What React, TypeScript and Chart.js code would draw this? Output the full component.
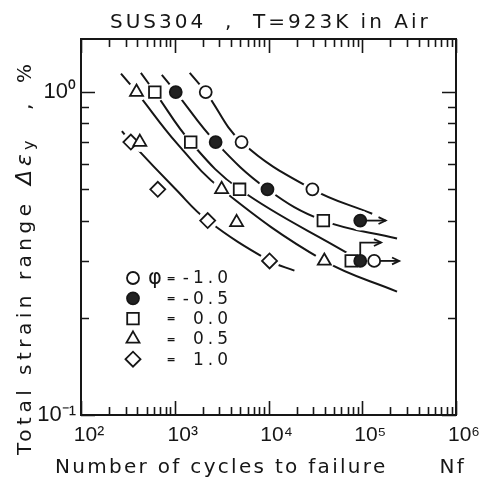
import React, { useEffect, useRef } from "react";
import { Chart, registerables } from "chart.js";

Chart.register(...registerables);

// ---------- texts ----------
const chartTitle = "SUS304  ,  T=923K in Air";
const xAxisTitle = "Number of cycles to failure      Nf";
const yAxisTitleMain = "Total strain range";
const yAxisTitleSymbol = "Δε";
const yAxisTitleSub = "y";
const yAxisTitleComma = ",";
const yAxisTitleUnit = "%";

// ---------- ticks ----------
const xTickValues = [1e2, 1e3, 1e4, 1e5, 1e6];
const xTickLabels = ["10²", "10³", "10⁴", "10⁵", "10⁶"];
const yTickValues = [0.1, 1];
const yTickLabels = ["10⁻¹", "10⁰"];
const yMinorTicks = [0.2, 0.3, 0.4, 0.5, 0.6, 0.7, 0.8, 0.9];
const minorMultipliers = [2, 3, 4, 5, 6, 7, 8, 9];

// ---------- legend ----------
const legendValues = ["-1.0", "-0.5", "0.0", "0.5", "1.0"];
const legendSymbol = "φ";

// ---------- data: cycles to failure (N) and strain range (%) ----------
const phiM10N = [2140, 5160, 29400, 134000];
const phiM10E = [1.0, 0.7, 0.5, 0.3];
const phiM05N = [1025, 2730, 9750, 95200, 95200];
const phiM05E = [1.0, 0.7, 0.5, 0.4, 0.3];
const phi00N = [613, 1480, 4915, 38460, 76300];
const phi00E = [1.0, 0.7, 0.5, 0.4, 0.3];
const phi05N = [391, 424, 3162, 4570, 39400];
const phi05E = [1.0, 0.7, 0.5, 0.395, 0.3];
const phi10N = [340, 659, 2245, 10260];
const phi10E = [0.7, 0.5, 0.4, 0.3];

// ---------- fitted curves ----------
const curveAN = [1445, 2140, 5160, 29400, 127700];
const curveAE = [1.146, 1.0, 0.7, 0.5, 0.42];
const curveBN = [728, 1025, 2730, 9750, 38460, 235000];
const curveBE = [1.13, 1.0, 0.7, 0.5, 0.4, 0.352];
const curveCN = [435, 613, 1480, 4915, 71000];
const curveCE = [1.146, 1.0, 0.7, 0.5, 0.316];
const curveDN = [267, 391, 1050, 3162, 39400, 235000];
const curveDE = [1.14, 1.0, 0.695, 0.5, 0.3, 0.241];
const curveEN = [273, 340, 1024, 2245, 10260, 18900];
const curveEE = [0.757, 0.7, 0.5, 0.4, 0.3, 0.28];

// ---------- run-out arrows ----------
const arrow1N = [95200, 178000];
const arrow1E = [0.4, 0.4];
const arrow2N = [134000, 248000];
const arrow2E = [0.3, 0.3];
const arrow3N = [95200, 95200, 159000];
const arrow3E = [0.3, 0.342, 0.342];

const INK = "#161616";

const pts = (xs: number[], ys: number[]) => xs.map((x, i) => ({ x, y: ys[i] }));

const markerSets = [
  { n: phiM10N, e: phiM10E, style: "circle", r: 6, fill: "#ffffff" },
  { n: phiM05N, e: phiM05E, style: "circle", r: 6, fill: "#222222" },
  { n: phi00N, e: phi00E, style: "rect", r: 8.2, fill: "#ffffff" },
  { n: phi05N, e: phi05E, style: "triangle", r: 7.5, fill: "#ffffff" },
  { n: phi10N, e: phi10E, style: "rectRot", r: 7.5, fill: "#ffffff" },
];

const curves = [
  [curveAN, curveAE],
  [curveBN, curveBE],
  [curveCN, curveCE],
  [curveDN, curveDE],
  [curveEN, curveEE],
];

const arrows = [
  [arrow1N, arrow1E],
  [arrow2N, arrow2E],
  [arrow3N, arrow3E],
];

function drawMarker(ctx: any, style: string, x: number, y: number, r: number, fill: string) {
  ctx.beginPath();
  if (style === "circle") {
    ctx.arc(x, y, r, 0, Math.PI * 2);
  } else if (style === "rect") {
    const s = r * Math.SQRT1_2;
    ctx.rect(x - s, y - s, 2 * s, 2 * s);
  } else if (style === "triangle") {
    let a = 0;
    ctx.moveTo(x + Math.sin(a) * r, y - Math.cos(a) * r);
    a += (2 * Math.PI) / 3;
    ctx.lineTo(x + Math.sin(a) * r, y - Math.cos(a) * r);
    a += (2 * Math.PI) / 3;
    ctx.lineTo(x + Math.sin(a) * r, y - Math.cos(a) * r);
    ctx.closePath();
  } else {
    ctx.moveTo(x - r, y);
    ctx.lineTo(x, y - r);
    ctx.lineTo(x + r, y);
    ctx.lineTo(x, y + r);
    ctx.closePath();
  }
  ctx.fillStyle = fill;
  ctx.fill();
  ctx.stroke();
}

function setText(ctx: any, font: string, spacing: number, align: string, baseline = "alphabetic") {
  ctx.font = font;
  ctx.letterSpacing = spacing + "px";
  ctx.textAlign = align;
  ctx.textBaseline = baseline;
}

const decorPlugin = {
  id: "decor",
  afterDraw(chart: any) {
    const { ctx, chartArea: a, scales } = chart;
    const xs = scales.x;
    const ys = scales.y;
    ctx.save();
    ctx.strokeStyle = INK;
    ctx.fillStyle = INK;
    ctx.lineCap = "butt";

    // frame
    ctx.lineWidth = 2;
    ctx.strokeRect(a.left, a.top, a.right - a.left, a.bottom - a.top);

    // ticks (inward, all four sides)
    ctx.lineWidth = 1.6;
    const xTicks: [number, boolean][] = [];
    xTickValues.forEach((d, i) => {
      xTicks.push([d, true]);
      if (i < xTickValues.length - 1) minorMultipliers.forEach((m) => xTicks.push([m * d, false]));
    });
    xTicks.forEach(([v, major]) => {
      const px = Math.round(xs.getPixelForValue(v)) + 0.5;
      const len = major ? 14 : 8;
      ctx.beginPath();
      ctx.moveTo(px, a.bottom);
      ctx.lineTo(px, a.bottom - len);
      ctx.moveTo(px, a.top);
      ctx.lineTo(px, a.top + len);
      ctx.stroke();
    });
    const yTicks: [number, boolean][] = [
      ...yTickValues.map((v) => [v, true] as [number, boolean]),
      ...yMinorTicks.map((v) => [v, false] as [number, boolean]),
    ];
    yTicks.forEach(([v, major]) => {
      const py = Math.round(ys.getPixelForValue(v)) + 0.5;
      const len = major ? 14 : 8;
      ctx.beginPath();
      ctx.moveTo(a.left, py);
      ctx.lineTo(a.left + len, py);
      ctx.moveTo(a.right, py);
      ctx.lineTo(a.right - len, py);
      ctx.stroke();
    });

    // run-out arrows
    ctx.lineWidth = 1.8;
    arrows.forEach(([ns, es]) => {
      const p = ns.map((n: number, i: number) => [xs.getPixelForValue(n), ys.getPixelForValue(es[i])]);
      ctx.beginPath();
      const dx0 = p[1][0] - p[0][0];
      const dy0 = p[1][1] - p[0][1];
      const l0 = Math.hypot(dx0, dy0) || 1;
      ctx.moveTo(p[0][0] + (dx0 / l0) * 6, p[0][1] + (dy0 / l0) * 6);
      for (let i = 1; i < p.length; i++) ctx.lineTo(p[i][0], p[i][1]);
      ctx.stroke();
      const last = p[p.length - 1];
      const prev = p[p.length - 2];
      const ang = Math.atan2(last[1] - prev[1], last[0] - prev[0]);
      const hl = 8;
      ctx.beginPath();
      ctx.moveTo(last[0] - hl * Math.cos(ang - 0.45), last[1] - hl * Math.sin(ang - 0.45));
      ctx.lineTo(last[0], last[1]);
      ctx.lineTo(last[0] - hl * Math.cos(ang + 0.45), last[1] - hl * Math.sin(ang + 0.45));
      ctx.stroke();
    });

    // legend
    const lx = 133;
    const ly0 = 278;
    const lStep = 20.3;
    ctx.lineWidth = 1.8;
    markerSets.forEach((m, i) => {
      const y = ly0 + i * lStep;
      ctx.strokeStyle = INK;
      drawMarker(ctx, m.style, lx, y, m.r, m.fill);
      ctx.fillStyle = INK;
      setText(ctx, "bold 11px 'DejaVu Sans'", 0, "center", "middle");
      ctx.fillText("=", 171, y + 1);
      setText(ctx, "17px 'DejaVu Sans'", 4, "right", "middle");
      ctx.fillText(legendValues[i], 232, y + 1);
    });
    setText(ctx, "21px 'DejaVu Sans'", 0, "center", "middle");
    ctx.fillText(legendSymbol, 155, ly0 + 1);

    // chart title
    ctx.fillStyle = INK;
    setText(ctx, "20px 'DejaVu Sans'", 3, "left");
    ctx.fillText(chartTitle, 110, 28);

    // x axis title
    setText(ctx, "20px 'DejaVu Sans'", 2.3, "left");
    ctx.fillText(xAxisTitle, 55, 473);

    // y axis title (rotated)
    ctx.save();
    ctx.translate(31, 455);
    ctx.rotate(-Math.PI / 2);
    setText(ctx, "20px 'DejaVu Sans'", 4.5, "left");
    ctx.fillText(yAxisTitleMain, 0, 0);
    setText(ctx, "italic 22px 'DejaVu Sans'", 4, "left");
    ctx.fillText(yAxisTitleSymbol, 270, 0);
    const w = ctx.measureText(yAxisTitleSymbol).width;
    setText(ctx, "16px 'DejaVu Sans'", 0, "left");
    ctx.fillText(yAxisTitleSub, 270 + w, 3);
    setText(ctx, "20px 'DejaVu Sans'", 0, "left");
    ctx.fillText(yAxisTitleComma, 345, 0);
    ctx.fillText(yAxisTitleUnit, 372, 0);
    ctx.restore();

    ctx.restore();
  },
};

export default function App() {
  const canvasRef = useRef<HTMLCanvasElement | null>(null);

  useEffect(() => {
    const canvas = canvasRef.current;
    if (!canvas) return;

    const datasets: any[] = [];
    markerSets.forEach((m, i) => {
      datasets.push({
        label: "phi " + legendValues[i],
        data: pts(m.n, m.e),
        showLine: false,
        pointStyle: m.style,
        pointRadius: m.r,
        pointHoverRadius: m.r,
        pointBackgroundColor: m.fill,
        pointBorderColor: INK,
        pointBorderWidth: 1.8,
        order: 0,
      });
      datasets.push({
        label: "gap " + legendValues[i],
        data: pts(m.n, m.e),
        showLine: false,
        pointStyle: "circle",
        pointRadius: 10,
        pointHoverRadius: 10,
        pointBackgroundColor: "#ffffff",
        pointBorderWidth: 0,
        pointBorderColor: "rgba(0,0,0,0)",
        order: 1,
      });
    });
    curves.forEach(([n, e], i) => {
      datasets.push({
        label: "curve " + legendValues[i],
        data: pts(n, e),
        showLine: true,
        borderColor: INK,
        borderWidth: 2,
        pointRadius: 0,
        pointHoverRadius: 0,
        tension: 0.4,
        fill: false,
        order: 2,
      });
    });

    const chart = new Chart(canvas, {
      type: "scatter",
      data: { datasets },
      options: {
        animation: false,
        responsive: false,
        devicePixelRatio: 1,
        events: [],
        layout: { padding: { top: 39, right: 26, left: 0, bottom: 0 } },
        plugins: {
          legend: { display: false },
          title: { display: false },
          tooltip: { enabled: false },
        },
        scales: {
          x: {
            type: "logarithmic",
            min: 100,
            max: 1e6,
            grid: { display: false, drawTicks: false },
            border: { display: false },
            ticks: {
              autoSkip: false,
              maxRotation: 0,
              padding: 8,
              labelOffset: 8,
              color: INK,
              font: { family: "'Liberation Sans'", size: 21 },
              callback: (v: any) => {
                const i = xTickValues.indexOf(Number(v));
                return i >= 0 ? xTickLabels[i] : "";
              },
            },
            afterBuildTicks: (s: any) => {
              s.ticks = xTickValues.map((v) => ({ value: v }));
            },
            afterFit: (s: any) => {
              s.height = 72;
            },
          },
          y: {
            type: "logarithmic",
            min: 0.1,
            max: 1.46,
            grid: { display: false, drawTicks: false },
            border: { display: false },
            ticks: {
              autoSkip: false,
              padding: 5,
              color: INK,
              font: { family: "'Liberation Sans'", size: 22 },
              callback: (v: any) => {
                const i = yTickValues.indexOf(Number(v));
                return i >= 0 ? yTickLabels[i] : "";
              },
            },
            afterBuildTicks: (s: any) => {
              s.ticks = yTickValues.map((v) => ({ value: v }));
            },
            afterFit: (s: any) => {
              s.width = 81;
            },
          },
        },
      },
      plugins: [decorPlugin],
    } as any);

    return () => chart.destroy();
  }, []);

  return (
    <div style={{ position: "absolute", left: 0, top: 0, width: 482, height: 487, background: "#fff" }}>
      <canvas ref={canvasRef} width={482} height={487} style={{ display: "block", width: 482, height: 487 }} />
    </div>
  );
}
